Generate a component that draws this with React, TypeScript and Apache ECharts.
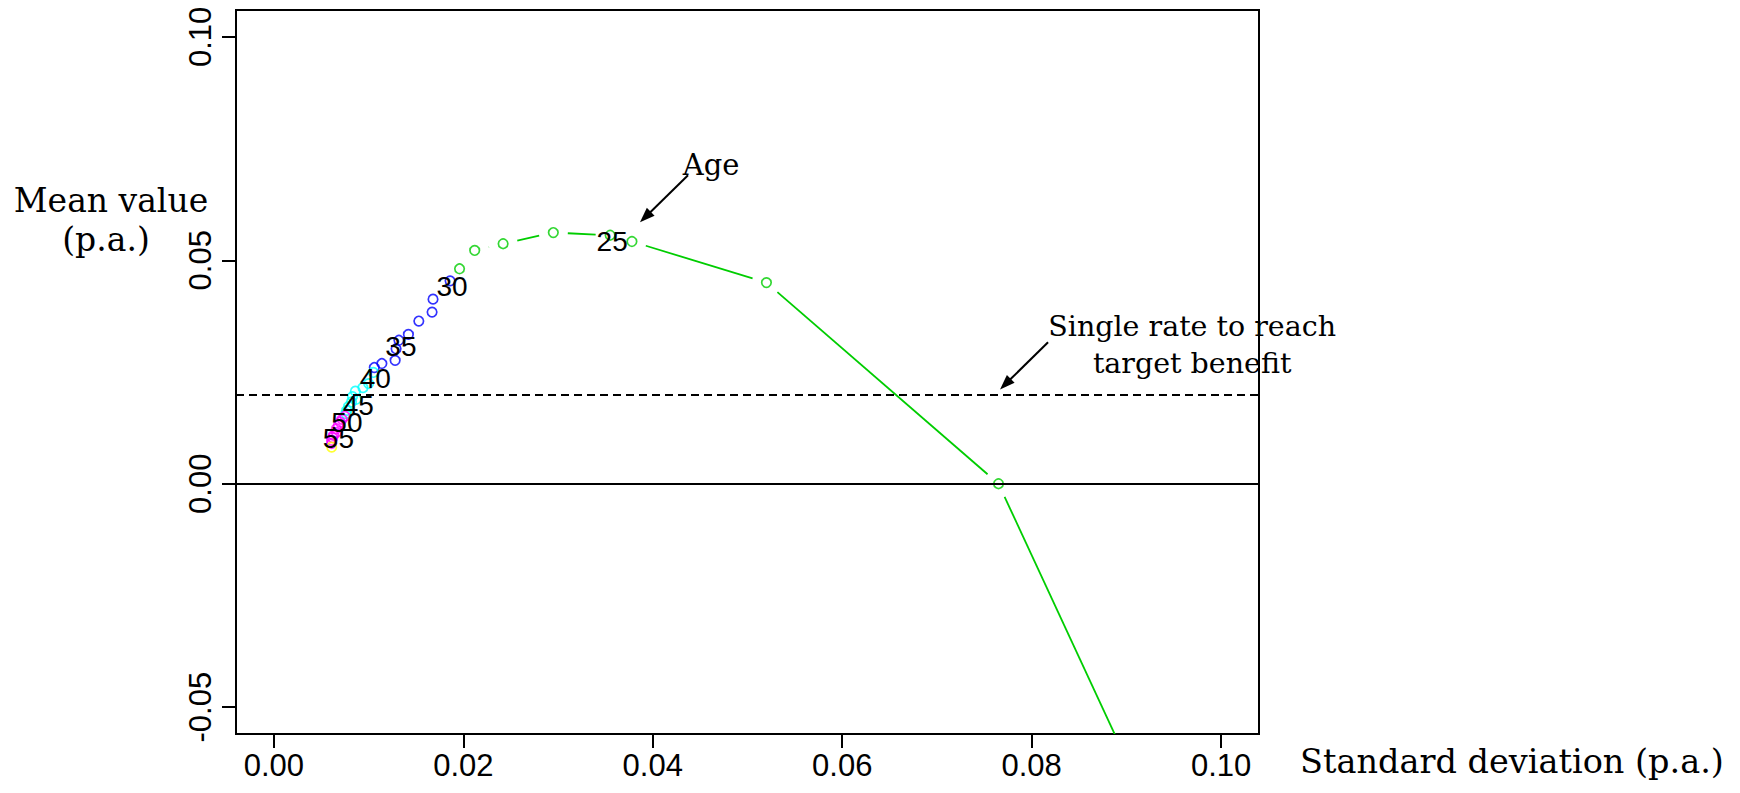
import React, { useEffect, useRef } from "react";
import * as echarts from "echarts";

// Age groups: standard deviation (p.a.) and mean value (p.a.) for each age
const ages20s = [21, 22, 23, 24, 25, 26, 27, 28, 29];
const sd20s = [0.0962, 0.0765, 0.052, 0.0378, 0.0355, 0.0295, 0.0242, 0.0212, 0.0196];
const mean20s = [-0.09, 0.0, 0.045, 0.0542, 0.0556, 0.0562, 0.0537, 0.0522, 0.0481];

const ages30s = [30, 31, 32, 33, 34, 35, 36, 37, 38, 39];
const sd30s = [0.0186, 0.0168, 0.0167, 0.0153, 0.0142, 0.0132, 0.0129, 0.0128, 0.0114, 0.0106];
const mean30s = [0.0454, 0.0413, 0.0384, 0.0364, 0.0334, 0.0321, 0.0302, 0.0276, 0.0269, 0.026];

const ages40s = [40, 41, 42, 43, 44, 45, 46, 47, 48, 49];
const sd40s = [0.0105, 0.01, 0.0094, 0.0086, 0.0083, 0.0087, 0.0082, 0.0079, 0.0077, 0.0076];
const mean40s = [0.0249, 0.0224, 0.0215, 0.0207, 0.0195, 0.0189, 0.0183, 0.0173, 0.0164, 0.0157];

const ages50s = [50, 51, 52, 53, 54, 55, 56, 57, 58, 59];
const sd50s = [0.0075, 0.0072, 0.007, 0.0068, 0.0066, 0.0066, 0.0063, 0.0062, 0.0061, 0.0061];
const mean50s = [0.0151, 0.0144, 0.0138, 0.0131, 0.0123, 0.0115, 0.0108, 0.0103, 0.0097, 0.009];

const ages60s = [60];
const sd60s = [0.0061];
const mean60s = [0.0082];

const labelledAges = [25, 30, 35, 40, 45, 50, 55];

const xTicks = [0, 0.02, 0.04, 0.06, 0.08, 0.1];
const yTicks = [-0.05, 0, 0.05, 0.1];

const targetRate = 0.02;

const groups = [
  { ages: ages20s, sd: sd20s, mean: mean20s, color: "#00CD00" },
  { ages: ages30s, sd: sd30s, mean: mean30s, color: "#0000FF" },
  { ages: ages40s, sd: sd40s, mean: mean40s, color: "#00FFFF" },
  { ages: ages50s, sd: sd50s, mean: mean50s, color: "#FF00FF" },
  { ages: ages60s, sd: sd60s, mean: mean60s, color: "#FFFF00" },
];

const SERIF = '"DejaVu Serif", "Liberation Serif", serif';
const SANS = '"Liberation Sans", Arial, sans-serif';
const GAP = 14.5;

export default function App() {
  const ref = useRef<HTMLDivElement>(null);

  useEffect(() => {
    if (!ref.current) return;
    const chart = echarts.init(ref.current, null, { renderer: "svg" });

    const series: any[] = [];
    groups.forEach((g, gi) => {
      // connecting segments, broken around each point
      const segs = g.sd.slice(1).map((x, i) => [g.sd[i], g.mean[i], x, g.mean[i + 1]]);
      series.push({
        type: "custom",
        clip: true,
        z: 2,
        silent: true,
        encode: { x: [0, 2], y: [1, 3] },
        data: segs,
        renderItem: (_p: any, api: any) => {
          const a = api.coord([api.value(0), api.value(1)]);
          const b = api.coord([api.value(2), api.value(3)]);
          const dx = b[0] - a[0];
          const dy = b[1] - a[1];
          const len = Math.hypot(dx, dy);
          if (len <= 2 * GAP) return { type: "group", children: [] };
          const ux = dx / len;
          const uy = dy / len;
          return {
            type: "line",
            shape: {
              x1: a[0] + ux * GAP,
              y1: a[1] + uy * GAP,
              x2: b[0] - ux * GAP,
              y2: b[1] - uy * GAP,
            },
            style: { stroke: g.color, lineWidth: 1.8 },
          };
        },
      });
      series.push({
        type: "scatter",
        z: 3,
        silent: true,
        clip: true,
        symbol: "circle",
        symbolSize: 9.5,
        itemStyle: { color: "rgba(0,0,0,0)", borderColor: g.color, borderWidth: 1.7 },
        data: g.sd.map((x, i) => [x, g.mean[i]]),
        markLine:
          gi === 0
            ? {
                silent: true,
                symbol: ["none", "none"],
                label: { show: false },
                animation: false,
                data: [
                  { yAxis: 0, lineStyle: { color: "#000", width: 2, type: "solid" } },
                  { yAxis: targetRate, lineStyle: { color: "#000", width: 1.8, type: [8, 5] } },
                ],
              }
            : undefined,
      });
    });

    // Age labels at every fifth age
    const labelData: number[][] = [];
    labelledAges.forEach((age) => {
      groups.forEach((g) => {
        const i = g.ages.indexOf(age);
        if (i >= 0) labelData.push([g.sd[i], g.mean[i], age]);
      });
    });
    series.push({
      type: "custom",
      z: 5,
      silent: true,
      encode: { x: 0, y: 1 },
      data: labelData,
      renderItem: (_p: any, api: any) => {
        const p = api.coord([api.value(0), api.value(1)]);
        return {
          type: "text",
          x: p[0] + 2,
          y: p[1] + 6,
          style: {
            text: String(api.value(2)),
            fontSize: 28,
            fontFamily: SANS,
            fill: "#000",
            align: "center",
            verticalAlign: "middle",
          },
        };
      },
    });

    const fmt = (v: number) => v.toFixed(2);

    chart.setOption({
      animation: false,
      backgroundColor: "#fff",
      grid: {
        left: 236,
        top: 10,
        width: 1023,
        height: 724,
        show: true,
        borderColor: "#000",
        borderWidth: 2,
        backgroundColor: "transparent",
      },
      xAxis: {
        type: "value",
        min: -0.004,
        max: 0.104,
        splitLine: { show: false },
        axisLine: { show: false, onZero: false },
        axisTick: {
          show: true,
          customValues: xTicks,
          length: 14,
          lineStyle: { color: "#000", width: 2 },
        },
        axisLabel: {
          customValues: xTicks,
          formatter: fmt,
          fontSize: 31,
          fontFamily: SANS,
          color: "#000",
          margin: 16,
        },
      },
      yAxis: {
        type: "value",
        min: -0.056,
        max: 0.106,
        splitLine: { show: false },
        axisLine: { show: false, onZero: false },
        axisTick: {
          show: true,
          customValues: yTicks,
          length: 14,
          lineStyle: { color: "#000", width: 2 },
        },
        axisLabel: {
          customValues: yTicks,
          formatter: fmt,
          rotate: 90,
          fontSize: 31,
          fontFamily: SANS,
          color: "#000",
          margin: 20,
        },
      },
      series,
    });

    // Annotations placed in data coordinates
    const px = (x: number, y: number) =>
      chart.convertToPixel({ xAxisIndex: 0, yAxisIndex: 0 }, [x, y]) as number[];

    const arrow = (from: number[], to: number[]) => {
      const a = px(from[0], from[1]);
      const b = px(to[0], to[1]);
      const dx = b[0] - a[0];
      const dy = b[1] - a[1];
      const len = Math.hypot(dx, dy);
      const ux = dx / len;
      const uy = dy / len;
      const head = 15;
      const half = 5.5;
      const bx = b[0] - ux * head;
      const by = b[1] - uy * head;
      return [
        {
          type: "line",
          shape: { x1: a[0], y1: a[1], x2: bx + ux * 2, y2: by + uy * 2 },
          style: { stroke: "#000", lineWidth: 2 },
        },
        {
          type: "polygon",
          shape: {
            points: [
              [b[0], b[1]],
              [bx - uy * half, by + ux * half],
              [bx + uy * half, by - ux * half],
            ],
          },
          style: { fill: "#000" },
        },
      ];
    };

    const textEl = (text: string, x: number, y: number, size: number) => ({
      type: "text",
      x,
      y,
      style: {
        text,
        fontSize: size,
        fontFamily: SERIF,
        fill: "#000",
        align: "center",
        verticalAlign: "middle",
      },
    });

    const agePos = px(0.04615, 0.07127);
    const single1 = px(0.09694, 0.03511);
    const single2 = px(0.09694, 0.02682);

    chart.setOption({
      graphic: [
        ...arrow([0.04372, 0.06903], [0.03865, 0.0585]),
        ...arrow([0.08173, 0.03164], [0.07666, 0.02111]),
        textEl("Age", agePos[0], agePos[1], 29),
        textEl("Single rate to reach", single1[0], single1[1], 28.5),
        textEl("target benefit", single2[0], single2[1], 28.5),
        textEl("Mean value", 111, 200, 33),
        textEl("(p.a.)", 106, 239, 33),
        textEl("Standard deviation (p.a.)", 1512, 761, 33.5),
      ],
    });

    return () => chart.dispose();
  }, []);

  return (
    <div
      ref={ref}
      style={{ position: "absolute", left: 0, top: 0, width: 1740, height: 793, background: "#fff" }}
    />
  );
}
